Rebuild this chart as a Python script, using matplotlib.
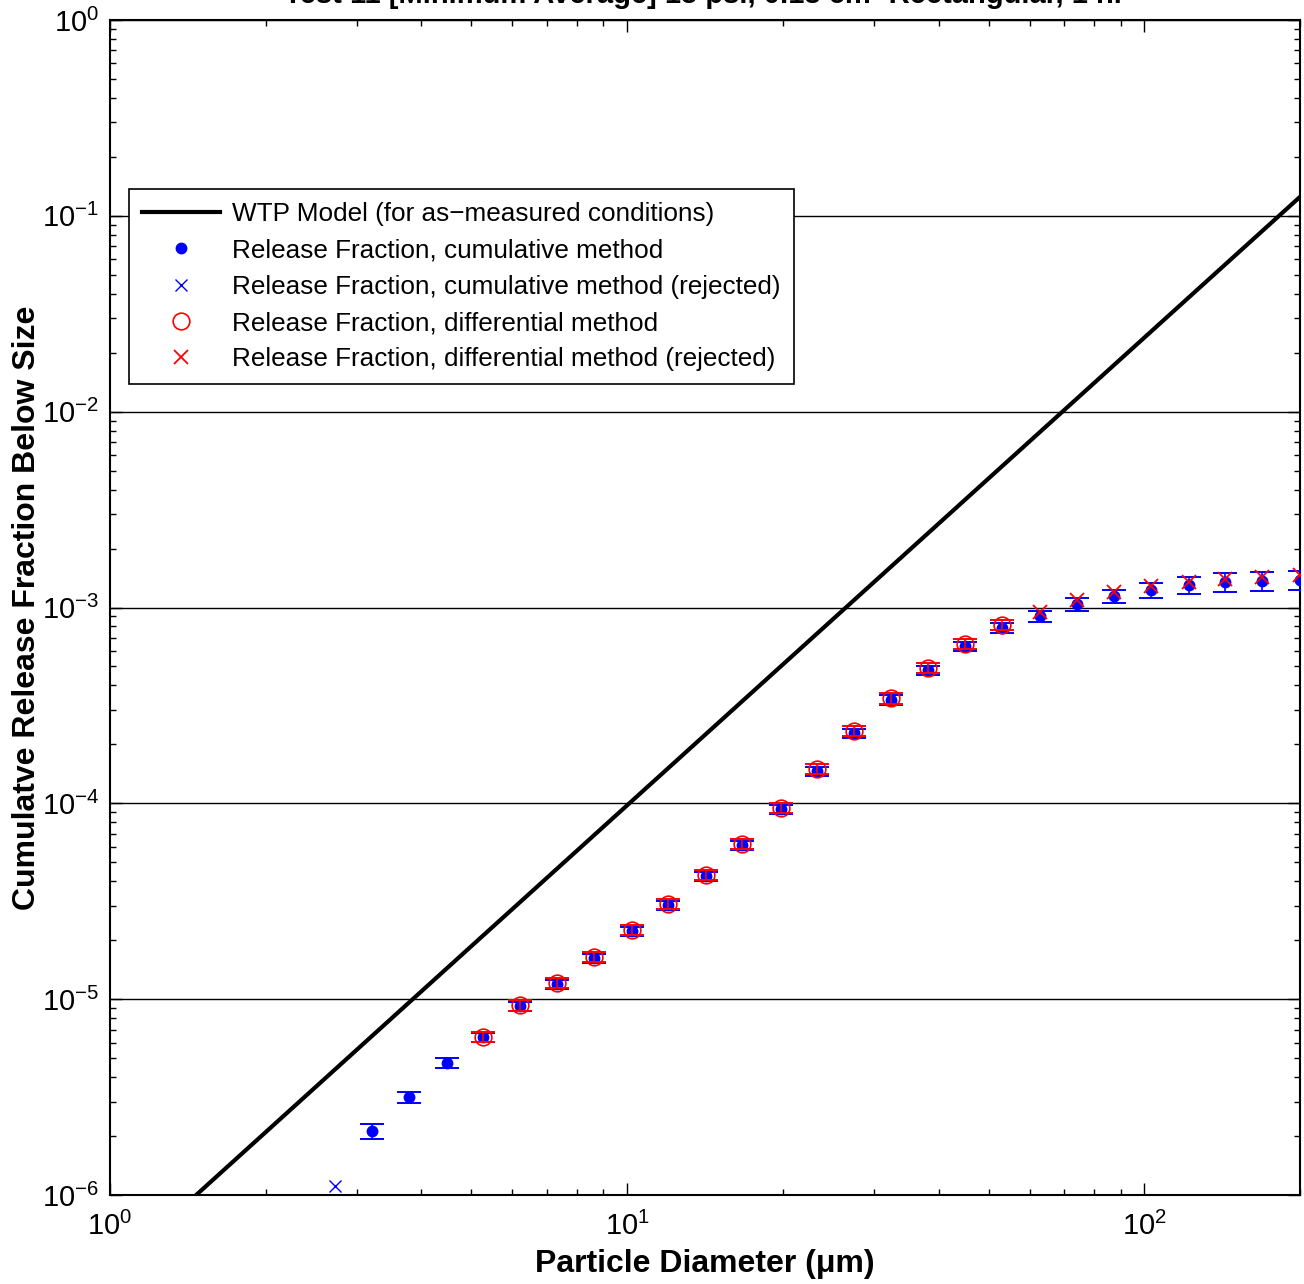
import matplotlib
matplotlib.use("Agg")
import matplotlib.pyplot as plt
from matplotlib.ticker import LogLocator, NullFormatter
import numpy as np

plt.rcParams['font.family'] = ['Liberation Sans', 'DejaVu Sans']
plt.rcParams['mathtext.default'] = 'regular'

# ---- data ----
sizes = [2.72, 3.21, 3.79, 4.48, 5.27, 6.21, 7.32, 8.63, 10.2, 12.0, 14.2, 16.7, 19.8,
         23.3, 27.5, 32.4, 38.2, 45.1, 53.1, 62.9, 74.2, 87.5, 103.0, 122.0, 143.0, 169.0, 200.0]

cum_vals = [1.11e-6, 2.12e-6, 3.16e-6, 4.71e-6, 6.40e-6, 9.21e-6, 1.19e-5, 1.62e-5, 2.22e-5,
            3.02e-5, 4.25e-5, 6.12e-5, 9.34e-5, 1.46e-4, 2.28e-4, 3.37e-4, 4.79e-4, 6.35e-4,
            7.85e-4, 9.04e-4, 1.04e-3, 1.14e-3, 1.23e-3, 1.30e-3, 1.35e-3, 1.36e-3, 1.38e-3]
cum_err = [0.0, 0.09, 0.065, 0.06, 0.055, 0.055, 0.055, 0.055, 0.055, 0.055, 0.055, 0.055,
           0.055, 0.055, 0.055, 0.055, 0.055, 0.055, 0.06, 0.065, 0.08, 0.08, 0.09, 0.10,
           0.11, 0.11, 0.11]
cum_rejected = [True] + [False] * 26

diff_vals = [np.nan, np.nan, np.nan, np.nan, 6.40e-6, 9.31e-6, 1.21e-5, 1.64e-5, 2.25e-5,
             3.06e-5, 4.30e-5, 6.19e-5, 9.45e-5, 1.50e-4, 2.34e-4, 3.44e-4, 4.90e-4, 6.50e-4,
             8.13e-4, 9.47e-4, 1.09e-3, 1.20e-3, 1.29e-3, 1.35e-3, 1.40e-3, 1.43e-3, 1.46e-3]
diff_err = [0.0, 0.0, 0.0, 0.0, 0.06, 0.06, 0.06, 0.06, 0.06, 0.06, 0.06, 0.06, 0.06, 0.06,
            0.06, 0.06, 0.06, 0.06, 0.06, 0.0, 0.0, 0.0, 0.0, 0.0, 0.0, 0.0, 0.0]
diff_rejected = [False] * 19 + [True] * 8

wtp_x = [1.0, 200.0]
wtp_y = [4.0e-7, 0.125]

title_text = "Test 11 [Minimum Average] 15 psi, 0.13 cm\u00b2 Rectangular, 1 hr"

# ---- figure ----
fig = plt.figure(figsize=(13.04, 12.84), dpi=100)
ax = fig.add_axes([110/1304, 1 - 1195/1284, 1190/1304, 1175/1284])

x = np.array(sizes)
cv = np.array(cum_vals)
ce = np.array(cum_err)
cr = np.array(cum_rejected)
dv = np.array(diff_vals)
de = np.array(diff_err)
dr = np.array(diff_rejected)

ax.plot(wtp_x, wtp_y, color='black', lw=3.0, label='WTP Model (for as\u2212measured conditions)', zorder=3)

acc = ~cr
ax.errorbar(x[acc], cv[acc], yerr=cv[acc] * ce[acc], fmt='none', ecolor='blue',
            elinewidth=1.2, capsize=8.5, capthick=1.4, zorder=4)
ax.plot(x[acc], cv[acc], 'o', color='blue', ms=7.5, mec='blue',
        label='Release Fraction, cumulative method', zorder=5)
ax.plot(x[cr], cv[cr], 'x', color='blue', ms=9, mew=1.0,
        label='Release Fraction, cumulative method (rejected)', zorder=5)

dacc = (~dr) & ~np.isnan(dv)
ax.errorbar(x[dacc], dv[dacc], yerr=dv[dacc] * de[dacc], fmt='none', ecolor='red',
            elinewidth=1.2, capsize=8.5, capthick=1.4, zorder=6)
ax.plot(x[dacc], dv[dacc], 'o', mfc='none', mec='red', ms=12, mew=1.2,
        label='Release Fraction, differential method', zorder=6)
ax.plot(x[dr], dv[dr], 'x', color='red', ms=10, mew=1.3,
        label='Release Fraction, differential method (rejected)', zorder=6)

ax.set_xscale('log')
ax.set_yscale('log')
ax.set_xlim(1, 200)
ax.set_ylim(1e-6, 1)

ax.xaxis.set_major_locator(LogLocator(base=10, numticks=10))
ax.xaxis.set_minor_locator(LogLocator(base=10, subs=np.arange(2, 10), numticks=20))
ax.yaxis.set_major_locator(LogLocator(base=10, numticks=10))
ax.yaxis.set_minor_locator(LogLocator(base=10, subs=np.arange(2, 10), numticks=20))
ax.xaxis.set_minor_formatter(NullFormatter())
ax.yaxis.set_minor_formatter(NullFormatter())

ax.tick_params(which='both', direction='in', top=True, right=True, labelsize=21, width=1.0)
ax.tick_params(which='major', length=8.5)
ax.tick_params(which='minor', length=4.5)
ax.tick_params(axis='x', which='major', pad=12)
ax.tick_params(axis='y', which='major', pad=8)
for s in ax.spines.values():
    s.set_linewidth(1.5)

ax.grid(True, which='major', axis='y', color='black', lw=1.0)
ax.grid(False, axis='x')
ax.set_axisbelow(True)

ax.set_xlabel('Particle Diameter (\u03bcm)', fontsize=23, fontweight='bold', labelpad=6)
ax.set_ylabel('Cumulatve Release Fraction Below Size', fontsize=23, fontweight='bold', labelpad=0)

leg = ax.legend(loc='upper left', bbox_to_anchor=(0.016, 0.856), borderaxespad=0,
                fontsize=18.8, fancybox=False, framealpha=1, edgecolor='black',
                handlelength=3.0, handletextpad=0.45, borderpad=0.5, labelspacing=0.47)
leg.get_frame().set_linewidth(1.2)

fig.text(705, 1284 - 3, title_text, transform=None, ha='center', va='baseline',
         fontsize=21, fontweight='bold')

fig.savefig('out.png', dpi=100)
